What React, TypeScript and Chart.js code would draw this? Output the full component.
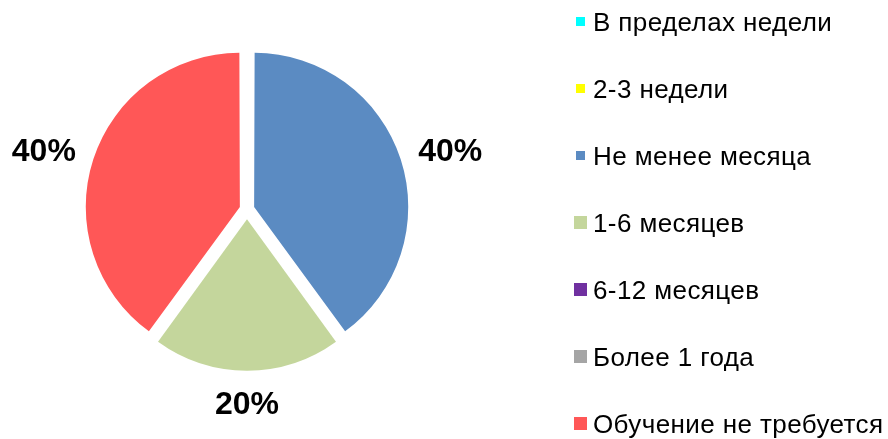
import React, { useEffect, useRef } from "react";
import { Chart, registerables } from "chart.js";

Chart.register(...registerables);

const categories = [
  "В пределах недели",
  "2-3 недели",
  "Не менее месяца",
  "1-6 месяцев",
  "6-12 месяцев",
  "Более 1 года",
  "Обучение не требуется",
];
const values = [0, 0, 40, 20, 0, 0, 40];
const colors = ["#00FFFF", "#FFFF00", "#5B8BC2", "#C4D69C", "#7030A0", "#A5A5A5", "#FF5757"];
const legendBoxSizes = [9, 9, 9, 13, 13, 13, 13];
const sliceOffsets = [0, 0, 30, 40, 0, 0, 30];

const FONT = "'Liberation Sans', Arial, sans-serif";

const labelPlugin = {
  id: "outsideLabels",
  afterDatasetsDraw(chart: any) {
    const ctx = chart.ctx;
    const meta = chart.getDatasetMeta(0);
    const data = chart.data.datasets[0].data as number[];
    const total = data.reduce((a, b) => a + b, 0);
    const size = 32;
    ctx.save();
    ctx.font = `bold ${size}px ${FONT}`;
    ctx.fillStyle = "#000";
    ctx.textAlign = "center";
    ctx.textBaseline = "alphabetic";
    meta.data.forEach((el: any, i: number) => {
      const v = data[i];
      if (!v) return;
      const { x, y, startAngle, endAngle, outerRadius } = el.getProps(
        ["x", "y", "startAngle", "endAngle", "outerRadius"],
        true
      );
      const mid = (startAngle + endAngle) / 2;
      const circ = endAngle - startAngle;
      const off = (el.options.offset || 0) / 4;
      const fix = 1 - Math.sin(Math.min(Math.PI, circ));
      const t = off + off * fix;
      const dx = Math.cos(mid);
      const dy = Math.sin(mid);
      const text = Math.round((v / total) * 100) + "%";
      const halfW = ctx.measureText(text).width / 2;
      const capH = size * 0.716;
      const halfH = capH / 2;
      const g = 20;
      const r = outerRadius + t + g;
      const cx = x + dx * r + dx * halfW;
      const cy = y + dy * r + dy * halfH;
      ctx.fillText(text, cx, cy + halfH);
    });
    ctx.restore();
  },
};

const legendPlugin = {
  id: "customLegend",
  afterDraw(chart: any) {
    const ctx = chart.ctx;
    const labels = chart.data.labels as string[];
    const bg = chart.data.datasets[0].backgroundColor as string[];
    const size = 26;
    const top = 21.3;
    const step = 67.1;
    const boxCx = 580;
    const textX = 593;
    ctx.save();
    ctx.font = `${size}px ${FONT}`;
    ctx.textAlign = "left";
    ctx.textBaseline = "alphabetic";
    try {
      ctx.letterSpacing = "0.4px";
    } catch (e) {}
    labels.forEach((lab, i) => {
      const cy = top + i * step;
      const b = legendBoxSizes[i];
      ctx.fillStyle = bg[i];
      ctx.fillRect(Math.round(boxCx - b / 2), Math.round(cy - b / 2), b, b);
      ctx.fillStyle = "#000";
      ctx.fillText(lab, textX, cy + (size * 0.716) / 2);
    });
    ctx.restore();
  },
};

export default function App() {
  const ref = useRef<HTMLCanvasElement | null>(null);
  useEffect(() => {
    document.body.style.margin = "0";
    if (!ref.current) return;
    const cx = 247;
    const cy = 209.2;
    const half = 171;
    const chart = new Chart(ref.current, {
      type: "pie",
      data: {
        labels: categories,
        datasets: [
          {
            data: values,
            backgroundColor: colors,
            borderWidth: 0,
            offset: sliceOffsets,
            hoverOffset: 0,
          },
        ],
      },
      options: {
        animation: false,
        responsive: false,
        maintainAspectRatio: false,
        layout: {
          padding: {
            left: cx - half,
            top: cy - half,
            right: 888 - (cx + half),
            bottom: 439 - (cy + half),
          },
        },
        plugins: {
          legend: { display: false },
          tooltip: { enabled: false },
        },
      },
      plugins: [labelPlugin, legendPlugin],
    });
    return () => chart.destroy();
  }, []);
  return (
    <div style={{ position: "absolute", left: 0, top: 0, width: 888, height: 439, background: "#fff" }}>
      <canvas ref={ref} width={888} height={439} />
    </div>
  );
}
